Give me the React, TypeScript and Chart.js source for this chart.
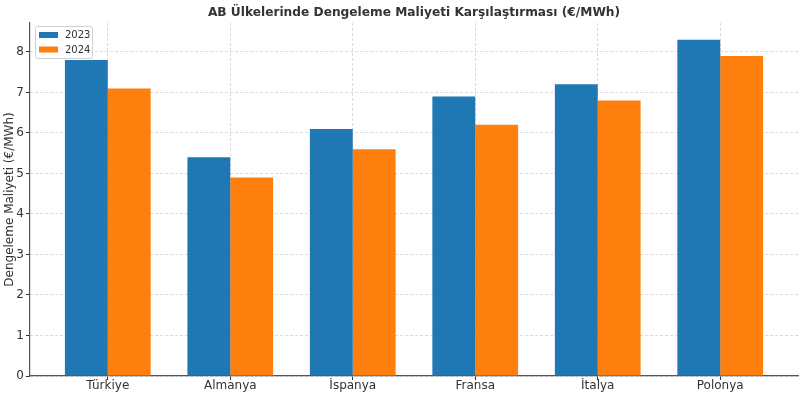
import React, { useEffect, useRef } from "react";
import { Chart, registerables } from "chart.js";

Chart.register(...registerables);

const categories = ["Türkiye", "Almanya", "İspanya", "Fransa", "İtalya", "Polonya"];
const series2023 = [7.8, 5.4, 6.1, 6.9, 7.2, 8.3];
const series2024 = [7.1, 4.9, 5.6, 6.2, 6.8, 7.9];
const seriesLabels = ["2023", "2024"];
const yTickValues = [0, 1, 2, 3, 4, 5, 6, 7, 8];
const chartTitle = "AB Ülkelerinde Dengeleme Maliyeti Karşılaştırması (€/MWh)";
const yAxisTitle = "Dengeleme Maliyeti (€/MWh)";

const BLUE = "#1f77b4";
const ORANGE = "#ff7f0e";
const FONT = "'DejaVu Sans', sans-serif";

const decorPlugin = {
  id: "decor",
  afterDraw(chart: any) {
    const ctx = chart.ctx;
    const ca = chart.chartArea;
    ctx.save();
    // Title
    ctx.fillStyle = "#333333";
    ctx.font = `bold 12.2px ${FONT}`;
    ctx.textAlign = "center";
    ctx.textBaseline = "middle";
    ctx.fillText(chartTitle, (ca.left + ca.right) / 2, 13);
    // Y axis title
    ctx.save();
    ctx.translate(10, (ca.top + ca.bottom) / 2);
    ctx.rotate(-Math.PI / 2);
    ctx.font = `12px ${FONT}`;
    ctx.fillStyle = "#333333";
    ctx.fillText(yAxisTitle, 0, 0);
    ctx.restore();
    // Legend
    const lx = 35, ly = 26, lw = 57, lh = 32;
    ctx.fillStyle = "rgba(255,255,255,0.85)";
    ctx.strokeStyle = "#d0d0d0";
    ctx.lineWidth = 1;
    ctx.beginPath();
    (ctx as any).roundRect(lx + 0.5, ly + 0.5, lw, lh, 2);
    ctx.fill();
    ctx.stroke();
    const colors = [BLUE, ORANGE];
    ctx.font = `10px ${FONT}`;
    ctx.textAlign = "left";
    ctx.textBaseline = "middle";
    seriesLabels.forEach((lab, i) => {
      const y = ly + 6 + i * 14.5;
      ctx.fillStyle = colors[i];
      ctx.fillRect(lx + 4, y, 19, 6);
      ctx.fillStyle = "#333333";
      ctx.fillText(lab, lx + 30, y + 3.5);
    });
    ctx.restore();
  },
};

const gridOpts = {
  color: "rgba(190,190,190,0.7)",
  lineWidth: 0.8,
  tickBorderDash: [],
  tickColor: "#333333",
  tickLength: 4,
  tickWidth: 1,
  offset: false,
};

export default function App() {
  const ref = useRef<HTMLCanvasElement | null>(null);
  useEffect(() => {
    if (!ref.current) return;
    const chart = new Chart(ref.current, {
      type: "bar",
      data: {
        datasets: [
          {
            label: seriesLabels[0],
            data: categories.map((_, i) => ({ x: i, y: series2023[i] })),
            backgroundColor: BLUE,
            borderWidth: 0,
          },
          {
            label: seriesLabels[1],
            data: categories.map((_, i) => ({ x: i, y: series2024[i] })),
            backgroundColor: ORANGE,
            borderWidth: 0,
          },
        ],
      },
      options: {
        responsive: false,
        animation: false,
        devicePixelRatio: 1,
        categoryPercentage: 0.7,
        barPercentage: 1.0,
        layout: { padding: { top: 23, right: 2, left: 0, bottom: 0 } },
        plugins: {
          legend: { display: false },
          title: { display: false },
          tooltip: { enabled: false },
        },
        scales: {
          x: {
            type: "linear",
            offset: false,
            min: -0.635,
            max: 5.635,
            afterBuildTicks: (s: any) => {
              s.ticks = categories.map((_, i) => ({ value: i }));
            },
            afterFit: (s: any) => {
              s.height = 20;
            },
            ticks: {
              callback: (v: any) => categories[Math.round(Number(v))] ?? "",
              color: "#333333",
              font: { family: FONT, size: 12 },
              padding: -1,
              maxRotation: 0,
              autoSkip: false,
            },
            grid: gridOpts,
            border: { display: true, color: "#555555", width: 1.2, dash: [3, 2] },
          },
          y: {
            min: 0,
            max: 8.715,
            afterBuildTicks: (s: any) => {
              s.ticks = yTickValues.map((v) => ({ value: v }));
            },
            afterFit: (s: any) => {
              s.width = 30;
            },
            ticks: {
              color: "#333333",
              font: { family: FONT, size: 12 },
              padding: 2,
            },
            grid: gridOpts,
            border: { display: true, color: "#555555", width: 1.2, dash: [3, 2] },
          },
        },
      },
      plugins: [decorPlugin],
    } as any);
    return () => chart.destroy();
  }, []);
  return (
    <canvas
      ref={ref}
      width={800}
      height={396}
      style={{ position: "absolute", left: 0, top: 0, display: "block" }}
    />
  );
}
